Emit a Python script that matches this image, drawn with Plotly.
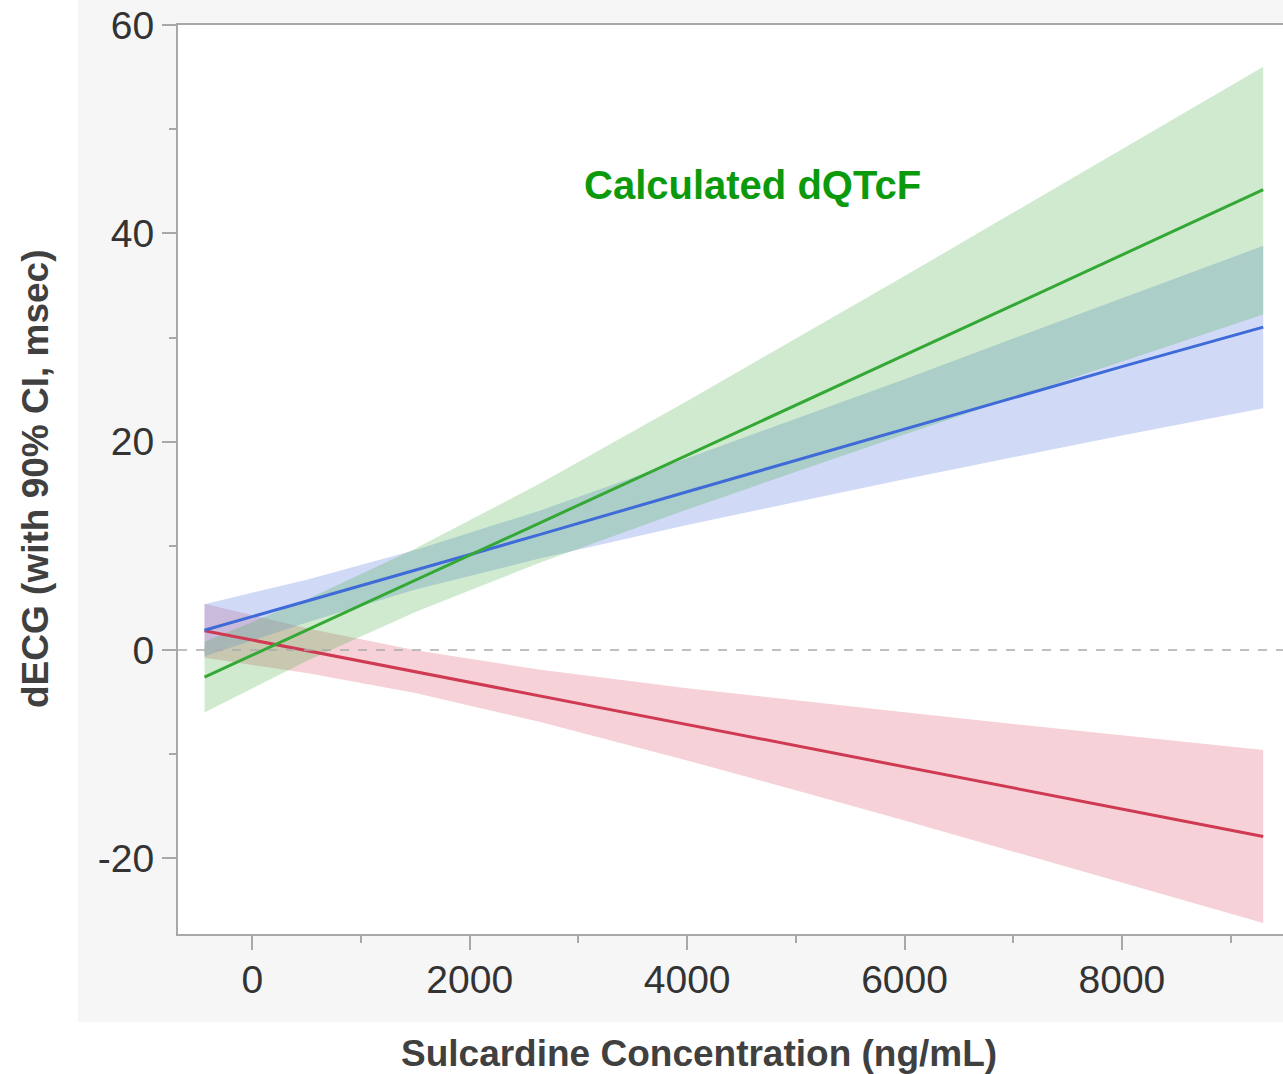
import plotly.graph_objects as go

# Data
conc = [-440, 500, 1500, 2650, 4000, 5000, 6000, 7000, 8000, 9300]

blue_mid = [1.9, 4.7, 7.7, 11.1, 15.2, 18.2, 21.2, 24.2, 27.2, 31.0]
blue_lo = [-0.6, 2.65, 5.8, 8.8, 12.0, 14.2, 16.4, 18.5, 20.6, 23.2]
blue_hi = [4.4, 6.75, 9.6, 13.4, 18.4, 22.2, 26.0, 29.9, 33.8, 38.8]

green_mid = [-2.6, 1.9, 6.7, 12.2, 18.7, 23.5, 28.3, 33.1, 37.9, 44.2]
green_lo = [-6.0, -1.05, 3.65, 8.4, 13.5, 17.1, 20.7, 24.2, 27.7, 32.2]
green_hi = [0.8, 4.85, 9.75, 16.0, 23.9, 29.9, 35.9, 42.0, 48.1, 56.0]

red_mid = [1.85, -0.05, -2.07, -4.4, -7.13, -9.15, -11.17, -13.2, -15.22, -17.9]
red_lo = [-0.75, -2.2, -4.13, -6.9, -10.6, -13.45, -16.36, -19.3, -22.3, -26.2]
red_hi = [4.45, 2.1, -0.01, -1.9, -3.67, -4.85, -5.98, -7.1, -8.16, -9.6]

x_ticks = [0, 2000, 4000, 6000, 8000]
y_ticks = [-20, 0, 20, 40, 60]

annotation_text = "Calculated dQTcF"
x_title = "Sulcardine Concentration (ng/mL)"
y_title = "dECG (with 90% CI, msec)"

series = [
    ("red", red_mid, red_lo, red_hi, "#cf3a52", "rgba(222,90,110,0.28)"),
    ("blue", blue_mid, blue_lo, blue_hi, "#3f6bd8", "rgba(110,140,230,0.32)"),
    ("green", green_mid, green_lo, green_hi, "#34a834", "rgba(70,175,70,0.26)"),
]

fig = go.Figure()
for name, mid, lo, hi, lc, fc in series:
    fig.add_trace(go.Scatter(
        x=conc + conc[::-1], y=hi + lo[::-1], fill="toself", fillcolor=fc,
        line=dict(width=0), mode="lines", hoverinfo="skip", showlegend=False))
for name, mid, lo, hi, lc, fc in series:
    fig.add_trace(go.Scatter(x=conc, y=mid, mode="lines",
                             line=dict(color=lc, width=3), showlegend=False))

axis_col = "#a8a8a8"
tick_font = dict(family="Liberation Sans, Arial, sans-serif", size=39, color="#333333")

W, H = 1283, 1074
L, T = 178, 25
PW, PH = W - L, 909
B = H - T - PH


def px(xp):  # page x -> paper x
    return (xp - L) / PW


def py(yp):  # page y -> paper y
    return (T + PH - yp) / PH


fig.update_layout(
    width=W, height=H,
    margin=dict(l=L, r=0, t=T, b=B),
    paper_bgcolor="white", plot_bgcolor="white",
    showlegend=False,
    font=dict(family="Liberation Sans, Arial, sans-serif"),
    xaxis=dict(range=[-684, 9482], showgrid=False, zeroline=False,
               showline=True, linecolor=axis_col, linewidth=2, mirror=True,
               tickmode="array", tickvals=x_ticks, ticktext=[str(v) for v in x_ticks],
               ticks="outside", ticklen=14, tickwidth=2, tickcolor=axis_col,
               minor=dict(ticks="outside", ticklen=7, tickwidth=2, tickcolor=axis_col,
                          dtick=1000, tick0=0, showgrid=False),
               tickfont=tick_font, ticklabelstandoff=-4, ticklabeloverflow="allow"),
    yaxis=dict(range=[-27.26, 60], showgrid=False, zeroline=False,
               showline=True, linecolor=axis_col, linewidth=2,
               tickmode="array", tickvals=y_ticks, ticktext=[str(v) for v in y_ticks],
               ticks="outside", ticklen=14, tickwidth=2, tickcolor=axis_col,
               minor=dict(ticks="outside", ticklen=7, tickwidth=2, tickcolor=axis_col,
                          dtick=10, tick0=0, showgrid=False),
               tickfont=tick_font, ticklabelstandoff=0, ticklabeloverflow="allow"),
    shapes=[
        dict(type="rect", xref="paper", yref="paper",
             x0=px(78), x1=1.0, y0=py(1022), y1=py(0),
             fillcolor="#f6f6f6", line=dict(width=0), layer="below"),
        dict(type="rect", xref="paper", yref="paper", x0=0, x1=1, y0=0, y1=1,
             fillcolor="white", line=dict(width=0), layer="below"),
        dict(type="line", xref="paper", yref="y", x0=0, x1=1, y0=0, y1=0,
             line=dict(color="#aaaaaa", width=1.5, dash="dash"), layer="above"),
    ],
    annotations=[
        dict(text="<b>" + annotation_text + "</b>", x=4600, y=44.6, xref="x", yref="y",
             showarrow=False,
             font=dict(size=40, color="#0b9a0b", family="Liberation Sans, Arial, sans-serif"),
             xanchor="center", yanchor="middle"),
        dict(text="<b>" + x_title + "</b>", xref="paper", yref="paper",
             x=px(699), y=py(1053), showarrow=False,
             font=dict(size=37, color="#404040"), xanchor="center", yanchor="middle"),
        dict(text="<b>" + y_title + "</b>", xref="paper", yref="paper",
             x=px(35), y=py(479), showarrow=False, textangle=-90,
             font=dict(size=37, color="#404040"), xanchor="center", yanchor="middle"),
    ],
)

# remove the default page margin so the figure fills the window exactly
fig.write_html("out.html", config={"displayModeBar": False},
               post_script="document.body.style.margin='0';document.body.style.overflow='hidden';")
